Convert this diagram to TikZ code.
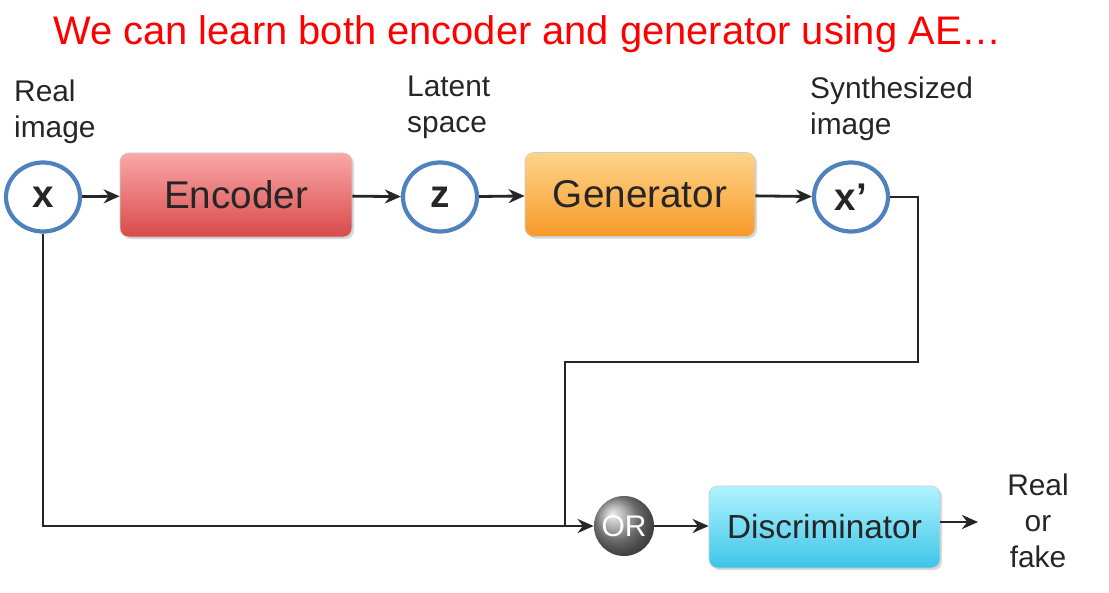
\documentclass[tikz,border=0pt]{standalone}
\usepackage{fontspec}
\setmainfont{Liberation Sans}
\usepackage{tikz}
\usetikzlibrary{positioning, arrows.meta, shadows, shapes.geometric}

\definecolor{ringblue}{HTML}{4F81BD}
\definecolor{titlered}{HTML}{FF0000}
\definecolor{enctop}{HTML}{FAA8A8}
\definecolor{encbot}{HTML}{D84A4A}
\definecolor{gentop}{HTML}{FFD48A}
\definecolor{genbot}{HTML}{F79A28}
\definecolor{distop}{HTML}{B0F4FF}
\definecolor{disbot}{HTML}{3CC4E8}

\tikzset{
    ring/.style={ellipse, draw=ringblue, line width=2.4pt, fill=white, minimum width=1.48cm, minimum height=1.38cm, inner sep=0pt, font=\fontsize{22}{24}\selectfont\bfseries, text=black!85},
    block/.style={rectangle, rounded corners=5pt, draw=black!20, minimum height=1.68cm, font=\fontsize{22}{24}\selectfont, text=black!85, drop shadow={opacity=0.3, shadow xshift=1.2pt, shadow yshift=-1.2pt}},
    lbl/.style={align=left, anchor=west, font=\fontsize{17}{20.5}\selectfont, text=black!85},
    wire/.style={line width=1.6pt, black!85},
    arr/.style={wire, -{Stealth[length=3.2mm, width=2.8mm]}}
}

\begin{document}
\begin{tikzpicture}
    \useasboundingbox (0, 0) rectangle (22.18, -11.84);

    \node[text=titlered, font=\fontsize{22.7}{26}\selectfont] (title) at (10.55, -0.68) {We can learn both encoder and generator using AE\ldots};

    \node[ring] (x) at (0.86, -3.94) {x};
    \node[block, minimum width=4.64cm, top color=enctop, bottom color=encbot] (enc) at (4.72, -3.90) {Encoder};
    \node[ring] (z) at (8.80, -3.94) {z};
    \node[block, minimum width=4.60cm, top color=gentop, bottom color=genbot] (gen) at (12.80, -3.89) {Generator};
    \node[ring] (xp) at (17.02, -3.94) {x'};

    \node[circle, shading=ball, ball color=black!40, minimum size=1.2cm, inner sep=0pt, text=white, font=\fontsize{17}{20}\selectfont] (or) at (12.48, -10.52) {OR};
    \node[block, minimum width=4.62cm, minimum height=1.64cm, top color=distop, bottom color=disbot, font=\fontsize{19}{22}\selectfont] (dis) at (16.49, -10.54) {Discriminator};

    \node[lbl] (lreal) at (0.16, -2.24) {Real\\image};
    \node[lbl] (llat) at (8.02, -2.14) {Latent\\space};
    \node[lbl] (lsyn) at (16.08, -2.18) {Synthesized\\image};
    \node[align=center, font=\fontsize{17}{20.5}\selectfont, text=black!85] (out) at (20.76, -10.42) {Real\\or\\fake};

    \coordinate (turn1) at (18.36, -3.94);
    \coordinate (turn2) at (18.36, -7.24);
    \coordinate (turn3) at (11.30, -7.24);
    \coordinate (outend) at (19.56, -10.44);

    \draw[arr] (x) -- (enc);
    \draw[arr] (enc) -- (z);
    \draw[arr] (z) -- (gen);
    \draw[arr] (gen) -- (xp);
    \draw[wire] (xp) -- (turn1) -- (turn2) -- (turn3) -- (turn3 |- or.west);
    \draw[arr] (x) |- (or);
    \draw[arr] (or) -- (dis.west |- or);
    \draw[arr] (dis.east |- outend) -- (outend);
\end{tikzpicture}
\end{document}
